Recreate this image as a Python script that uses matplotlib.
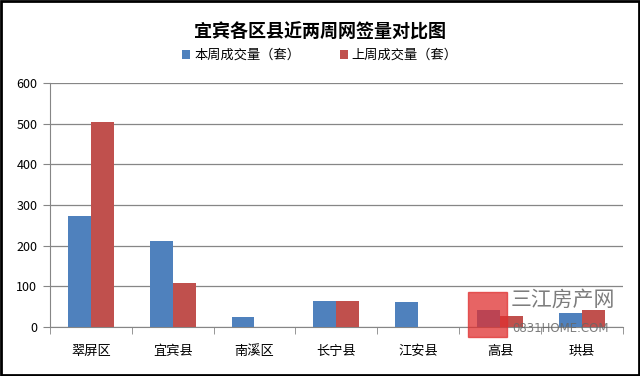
import matplotlib.pyplot as plt
import matplotlib.patches as mpatches
import numpy as np

plt.rcParams['font.family'] = ['Noto Sans CJK SC', 'DejaVu Sans']

districts = ['翠屏区', '宜宾县', '南溪区', '长宁县', '江安县', '高县', '珙县']
this_week = [273, 211, 25, 64, 61, 42, 34]
last_week = [504, 108, 0, 64, 0, 27, 43]
yticks = [0, 100, 200, 300, 400, 500, 600]

fig = plt.figure(figsize=(6.4, 3.76), dpi=100)
ax = fig.add_axes([0.078, 0.130, 0.895, 0.649])

x = np.arange(len(districts))
w = 0.28
ax.bar(x - w / 2, this_week, w, color='#4F81BD', label='本周成交量（套）', zorder=3)
ax.bar(x + w / 2, last_week, w, color='#C0504D', label='上周成交量（套）', zorder=3)

ax.set_xlim(-0.5, len(districts) - 0.5)
ax.set_ylim(0, 600)
ax.set_yticks(yticks)
ax.set_yticklabels([str(v) for v in yticks], fontsize=9)
ax.set_xticks(x)
ax.set_xticklabels(districts, fontsize=9.5)
ax.set_xticks(np.arange(-0.5, len(districts)), minor=True)
ax.tick_params(axis='x', which='major', length=0, pad=13)
ax.tick_params(axis='x', which='minor', length=5, color='#868686', direction='out')
ax.tick_params(axis='y', length=5, color='#868686', direction='out', pad=4)
ax.grid(axis='y', color='#868686', linewidth=0.9, zorder=0)
for s in ['top', 'right']:
    ax.spines[s].set_visible(False)
ax.spines['left'].set_color('#868686')
ax.spines['bottom'].set_color('#868686')

fig.text(0.5, 0.915, '宜宾各区县近两周网签量对比图', ha='center', va='center',
         fontsize=13, fontweight='bold')
fig.legend(loc='center', bbox_to_anchor=(0.5, 0.852), ncol=2, frameon=False,
           fontsize=9.5, handlelength=0.6, handleheight=0.6, columnspacing=3,
           handletextpad=0.3)

# watermark
fig.patches.append(mpatches.Rectangle((468 / 640, 1 - 337 / 376), 39 / 640, 45 / 376,
                                      transform=fig.transFigure, color='#E03030',
                                      alpha=0.75, zorder=5))
fig.text(511 / 640, 1 - 300 / 376, '三江房产网', ha='left', va='center',
         fontsize=15, color='#666666', alpha=0.85, zorder=6)
fig.text(512 / 640, 1 - 329 / 376, '0831HOME.COM', ha='left', va='center',
         fontsize=8.5, color='#666666', alpha=0.85, zorder=6, family='Liberation Sans Narrow')

fig.patches.append(mpatches.Rectangle((0.002, 0.003), 0.996, 0.994, transform=fig.transFigure,
                                      fill=False, edgecolor='black', linewidth=2))

fig.savefig('out.png', dpi=100)
